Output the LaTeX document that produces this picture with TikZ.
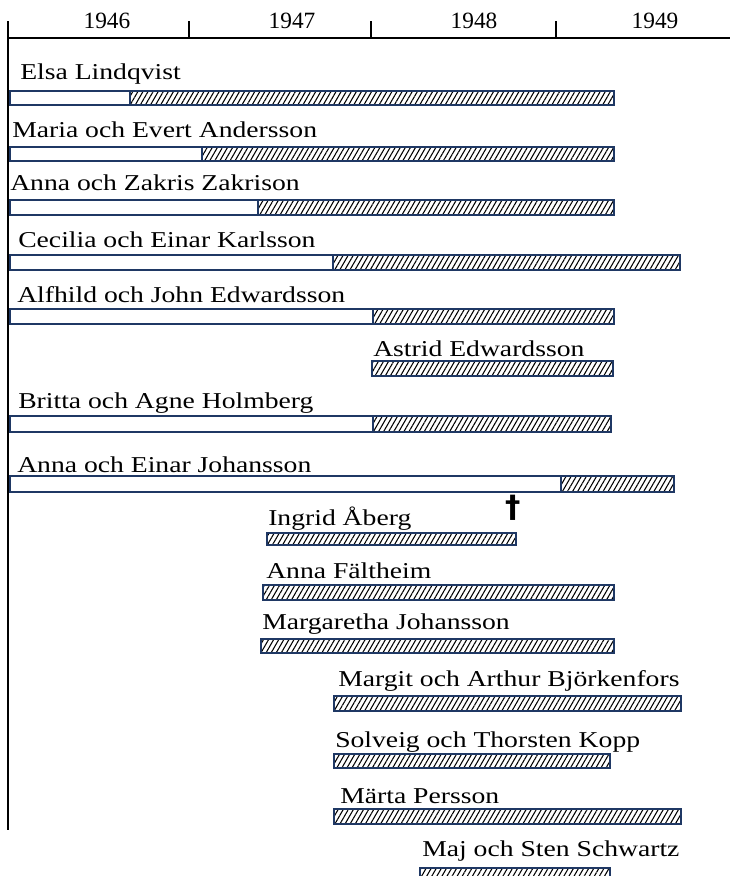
\documentclass[tikz,border=0pt]{standalone}
\usepackage{fontspec}
\setmainfont{Liberation Serif}
\newfontfamily\namefont[FakeStretch=1.22]{Liberation Serif}
\newfontfamily\markfont{DejaVu Sans}
\usetikzlibrary{patterns.meta}
\definecolor{barnavy}{HTML}{1F3864}

\begin{document}
\begin{tikzpicture}[
    x=0.75pt, y=-0.75pt,
    % Year label style
    yearlabel/.style={
        inner sep=0pt,
        font=\fontsize{17.5pt}{18pt}\selectfont
    },
    % Name label style
    namelabel/.style={
        anchor=base west,
        inner sep=0pt,
        font=\namefont\fontsize{17pt}{18pt}\selectfont
    },
    % Time at home
    homebar/.style={
        draw=barnavy,
        line width=2pt,
        fill=white
    },
    % Time away (hatched)
    awaybar/.style={
        draw=barnavy,
        line width=2pt,
        pattern={Lines[angle=60, distance=3.3pt, line width=0.8pt]}
    },
    axisline/.style={
        line width=1.6pt,
        black
    },
    deathmark/.style={
        inner sep=0pt,
        font=\markfont\bfseries\fontsize{23pt}{23pt}\selectfont
    }
]
\useasboundingbox (0,0) rectangle (730,876);
\clip (0,0) rectangle (730,876);

% === Time axis ===
\draw[axisline] (8,38) -- (730,38);
\draw[axisline] (8,21) -- (8,830);
\draw[axisline] (189,21) -- (189,38);
\draw[axisline] (371,21) -- (371,38);
\draw[axisline] (556,21) -- (556,38);

\node[yearlabel] (y1946) at (107,21) {1946};
\node[yearlabel] (y1947) at (292,21) {1947};
\node[yearlabel] (y1948) at (474,21) {1948};
\node[yearlabel] (y1949) at (655,21) {1949};

% === Rows with time at home ===
\node[namelabel] (elsa) at (20,79) {Elsa Lindqvist};
\draw[homebar] (10,91) rectangle (130,105);
\draw[awaybar] (130,91) rectangle (614,105);

\node[namelabel] (andersson) at (12,137) {Maria och Evert Andersson};
\draw[homebar] (10,147) rectangle (202,161);
\draw[awaybar] (202,147) rectangle (614,161);

\node[namelabel] (zakrison) at (10,190) {Anna och Zakris Zakrison};
\draw[homebar] (10,200) rectangle (258,215);
\draw[awaybar] (258,200) rectangle (614,215);

\node[namelabel] (karlsson) at (18,247) {Cecilia och Einar Karlsson};
\draw[homebar] (10,255) rectangle (333,270);
\draw[awaybar] (333,255) rectangle (680,270);

\node[namelabel] (edwardsson) at (17,302) {Alfhild och John Edwardsson};
\draw[homebar] (10,309) rectangle (373,324);
\draw[awaybar] (373,309) rectangle (614,324);

\node[namelabel] (astrid) at (373,356) {Astrid Edwardsson};
\draw[awaybar] (372,361) rectangle (613,376);

\node[namelabel] (holmberg) at (18,408) {Britta och Agne Holmberg};
\draw[homebar] (10,416) rectangle (373,432);
\draw[awaybar] (373,416) rectangle (611,432);

\node[namelabel] (johansson) at (17,472) {Anna och Einar Johansson};
\draw[homebar] (10,476) rectangle (561,492);
\draw[awaybar] (561,476) rectangle (674,492);

% === Rows away only ===
\node[namelabel] (aberg) at (268,525) {Ingrid Åberg};
\draw[awaybar] (267,533) rectangle (516,545);
\node[deathmark] (cross) at (513,508) {†};

\node[namelabel] (faltheim) at (266,578) {Anna Fältheim};
\draw[awaybar] (263,585) rectangle (614,600);

\node[namelabel] (margaretha) at (262,629) {Margaretha Johansson};
\draw[awaybar] (261,639) rectangle (614,653);

\node[namelabel] (bjorkenfors) at (338,686) {Margit och Arthur Björkenfors};
\draw[awaybar] (334,696) rectangle (681,711);

\node[namelabel] (kopp) at (335,747) {Solveig och Thorsten Kopp};
\draw[awaybar] (334,754) rectangle (610,768);

\node[namelabel] (persson) at (340,803) {Märta Persson};
\draw[awaybar] (334,809) rectangle (681,824);

\node[namelabel] (schwartz) at (422,856) {Maj och Sten Schwartz};
\draw[awaybar] (420,868) rectangle (610,883);

\end{tikzpicture}
\end{document}
